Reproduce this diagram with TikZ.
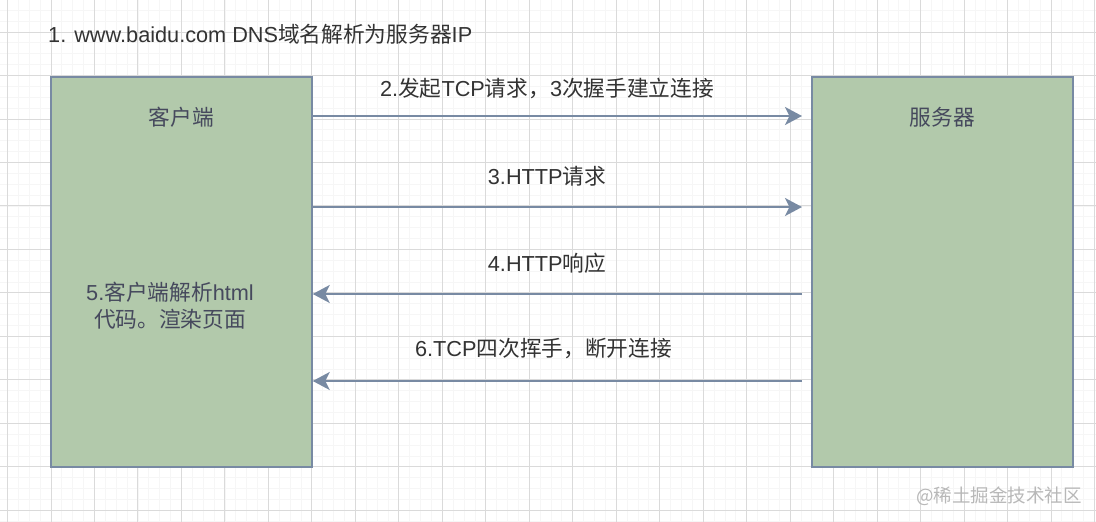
\documentclass[tikz,border=0pt]{standalone}
\usepackage{fontspec}
\setmainfont{Liberation Sans}
\newfontfamily\cjk{Noto Sans CJK SC}
\usepackage{tikz}
\usetikzlibrary{arrows.meta, positioning}
\usepackage{color}
\definecolor{boxfill}{HTML}{B2C9AB}
\definecolor{boxline}{HTML}{788AA3}
\definecolor{txtgray}{HTML}{333333}
\definecolor{boxtext}{HTML}{46495D}
\definecolor{gridminor}{HTML}{F6F6F6}
\definecolor{gridmajor}{HTML}{DADADA}
\definecolor{marklight}{HTML}{B8B8B8}

\begin{document}
\begin{tikzpicture}[x=1pt, y=-1pt,
    host/.style={draw=boxline, line width=1.5pt, fill=boxfill, minimum width=261pt, minimum height=390pt, inner sep=0pt},
    flow/.style={draw=boxline, line width=2pt, -{Stealth[length=17pt, width=18pt, inset=4.5pt]}},
    lbl/.style={text=txtgray, font=\fontsize{21.7}{27}\selectfont, inner sep=0pt},
    hostlbl/.style={lbl, text=boxtext}]
  \fill[white] (0,0) rectangle (1096,522);
  \useasboundingbox (0,0) rectangle (1096,522);
  % grid
  \foreach \i in {0,...,101}{
    \draw[gridminor, line width=0.8pt] (-3.37+10.87*\i,0)--(-3.37+10.87*\i,522);
  }
  \foreach \i in {0,...,49}{
    \draw[gridminor, line width=0.8pt] (0,-0.6+10.87*\i)--(1096,-0.6+10.87*\i);
  }
  \foreach \i in {0,...,25}{
    \draw[gridmajor, line width=0.9pt] (7.5+43.48*\i,0)--(7.5+43.48*\i,522);
  }
  \foreach \i in {0,...,11}{
    \draw[gridmajor, line width=0.9pt] (0,32+43.48*\i)--(1096,32+43.48*\i);
  }
  \node[lbl, anchor=west] (dns) at (48,34) {1. www.baidu.com DNS{\cjk 域名解析为服务器}IP};
  % client and server
  \node[host] (client) at (181.5,272) {};
  \node[host] (server) at (942.5,272) {};
  \node[hostlbl] (clientname) at (181.5,117) {{\cjk 客户端}};
  \node[hostlbl] (servername) at (942.5,117) {{\cjk 服务器}};
  \node[hostlbl, align=center] (render) at (170,306) {5.{\cjk 客户端解析}html\\{\cjk 代码。渲染页面}};
  % messages
  \coordinate (tcpend) at (802,116);
  \coordinate (reqend) at (802,207);
  \coordinate (respstart) at (802,294);
  \coordinate (closestart) at (802,381);
  \draw[flow] (client.east |- tcpend) -- (tcpend);
  \draw[flow] (client.east |- reqend) -- (reqend);
  \draw[flow] (respstart) -- (client.east |- respstart);
  \draw[flow] (closestart) -- (client.east |- closestart);
  \node[lbl] (tcplbl) at (547,88) {2.{\cjk 发起}TCP{\cjk 请求，}3{\cjk 次握手建立连接}};
  \node[lbl] (reqlbl) at (547,176) {3.HTTP{\cjk 请求}};
  \node[lbl] (resplbl) at (547,263) {4.HTTP{\cjk 响应}};
  \node[lbl] (closelbl) at (543.5,349) {6.TCP{\cjk 四次挥手，断开连接}};
  \node[text=marklight, font=\fontsize{18.5}{20}\selectfont, inner sep=0pt] (mark) at (999,496) {{\cjk @稀土掘金技术社区}};
\end{tikzpicture}
\end{document}
